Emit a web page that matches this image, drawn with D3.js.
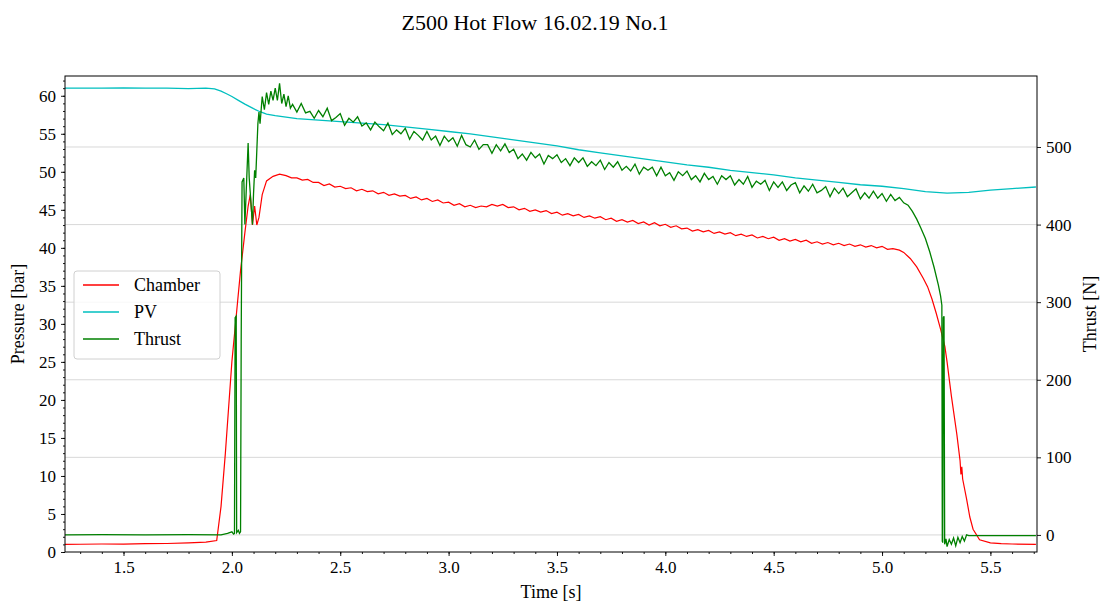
<!DOCTYPE html>
<html>
<head>
<meta charset="utf-8">
<script src="https://cdn.jsdelivr.net/npm/d3@7"></script>
<style>
  body { margin: 0; background: #fff; }
  svg text { font-family: "Liberation Serif", "DejaVu Serif", serif; fill: #000; }
</style>
</head>
<body>
<div id="chart"></div>
<script>
// data
const chartTitle = "Z500 Hot Flow 16.02.19 No.1";
const seriesNames = ["Chamber", "PV", "Thrust"];
const seriesColors = ["#ff0000", "#00bfbf", "#008000"];
const timeTicks = [1.5, 2.0, 2.5, 3.0, 3.5, 4.0, 4.5, 5.0, 5.5];
const pressureTicks = [0, 5, 10, 15, 20, 25, 30, 35, 40, 45, 50, 55, 60];
const thrustTicks = [0, 100, 200, 300, 400, 500];

// chamber pressure [s, bar]
const chamber = [
  [1.23,1.0],[1.3,1.02],[1.4,1.05],[1.5,1.04],[1.6,1.1],[1.7,1.12],[1.8,1.2],[1.88,1.3],[1.93,1.5],
  [1.95,6],[1.97,13],[1.99,21],[2.0,25],[2.02,31],[2.04,37],[2.06,42],[2.075,45.5],[2.085,47],
  [2.095,43],[2.105,45.5],[2.115,43],[2.125,44],[2.14,47],[2.16,48.8],[2.19,49.4],[2.22,49.7],
  [2.25,49.5],[2.275,49.2],[2.3,49.2],[2.325,48.9],[2.35,49.0],[2.375,48.6],[2.4,48.6],[2.425,48.2],
  [2.45,48.4],[2.475,48.0],[2.5,48.1],[2.525,47.8],[2.55,47.9],[2.575,47.5],[2.6,47.7],[2.625,47.4],
  [2.65,47.5],[2.675,47.1],[2.7,47.3],[2.725,46.9],[2.75,47.1],[2.775,46.8],[2.8,46.9],[2.825,46.5],
  [2.85,46.7],[2.875,46.3],[2.9,46.5],[2.925,46.1],[2.95,46.3],[2.975,45.9],[3.0,46.0],[3.025,45.6],
  [3.05,45.8],[3.075,45.4],[3.1,45.6],[3.125,45.3],[3.15,45.5],[3.175,45.4],[3.2,45.7],[3.225,45.5],
  [3.25,45.7],[3.275,45.3],[3.3,45.4],[3.325,45.0],[3.35,45.2],[3.375,44.8],[3.4,45.0],[3.425,44.7],
  [3.45,44.9],[3.475,44.5],[3.5,44.7],[3.525,44.3],[3.55,44.5],[3.575,44.2],[3.6,44.4],[3.625,44.0],
  [3.65,44.2],[3.675,43.9],[3.7,44.1],[3.725,43.7],[3.75,43.9],[3.775,43.5],[3.8,43.7],[3.825,43.4],
  [3.85,43.6],[3.875,43.2],[3.9,43.4],[3.925,43.0],[3.95,43.3],[3.975,42.9],[4.0,43.1],[4.025,42.7],
  [4.05,42.9],[4.075,42.5],[4.1,42.6],[4.125,42.2],[4.15,42.4],[4.175,42.1],[4.2,42.3],[4.225,41.9],
  [4.25,42.1],[4.275,41.8],[4.3,42.0],[4.325,41.6],[4.35,41.8],[4.375,41.5],[4.4,41.7],[4.425,41.3],
  [4.45,41.5],[4.475,41.2],[4.5,41.4],[4.525,41.0],[4.55,41.2],[4.575,40.9],[4.6,41.1],[4.625,40.8],
  [4.65,41.0],[4.675,40.6],[4.7,40.8],[4.725,40.5],[4.75,40.7],[4.775,40.4],[4.8,40.6],[4.825,40.3],
  [4.85,40.5],[4.875,40.2],[4.9,40.4],[4.925,40.1],[4.95,40.3],[4.975,40.0],[5.0,40.2],[5.025,39.8],
  [5.05,39.9],[5.08,39.7],[5.1,39.4],[5.13,38.6],[5.16,37.5],[5.19,36.0],[5.21,34.9],[5.23,33.3],
  [5.25,31.4],[5.27,29.3],[5.29,27.0],[5.30,25],[5.32,20.5],[5.345,15.5],[5.36,12.0],[5.364,10.2],
  [5.368,11.2],[5.372,9.6],[5.39,7.0],[5.405,4.6],[5.42,3.0],[5.45,1.6],[5.5,1.2],
  [5.55,1.1],[5.6,1.05],[5.71,1.0]
];

// PV pressure [s, bar]
const pv = [
  [1.23,61.0],[1.4,61.0],[1.5,61.05],[1.6,61.0],[1.7,61.0],[1.8,60.95],[1.88,61.0],[1.92,60.9],
  [1.95,60.6],[1.98,60.2],[2.0,59.9],[2.03,59.4],[2.06,58.9],[2.1,58.3],[2.13,57.9],[2.16,57.6],
  [2.2,57.4],[2.25,57.2],[2.3,57.0],[2.4,56.8],[2.5,56.6],[2.6,56.4],[2.7,56.2],[2.8,55.9],
  [2.9,55.6],[3.0,55.3],[3.1,55.0],[3.2,54.6],[3.3,54.2],[3.4,53.8],[3.5,53.4],[3.6,52.9],
  [3.7,52.5],[3.8,52.1],[3.9,51.7],[4.0,51.3],[4.1,50.9],[4.2,50.6],[4.3,50.2],[4.4,49.9],
  [4.5,49.6],[4.6,49.2],[4.7,48.9],[4.8,48.6],[4.9,48.3],[5.0,48.1],[5.1,47.8],[5.2,47.4],
  [5.3,47.2],[5.4,47.3],[5.5,47.6],[5.6,47.8],[5.71,48.0]
];

// thrust [s, N]
const thrust = [
  [1.23,0],[1.4,0.5],[1.6,0],[1.8,0.5],[1.95,0],[1.98,2],[2.0,4],[2.008,1],[2.012,2],
  [2.015,280],[2.02,282],[2.022,3],[2.03,6],[2.035,2],[2.04,4],[2.043,250],[2.047,455],
  [2.055,460],[2.06,400],[2.07,470],[2.075,505],[2.08,460],[2.09,420],[2.095,400],[2.1,440],
  [2.105,470],[2.11,460],[2.12,530],[2.125,545],[2.13,530],[2.14,565],[2.15,548],[2.16,570],
  [2.17,555],[2.18,572],[2.19,560],[2.2,576],[2.21,560],[2.22,582],[2.23,556],[2.24,568],
  [2.25,552],[2.26,566],[2.27,550],
  [2.28,555],[2.30,545],[2.32,556],[2.34,544],[2.36,546],[2.38,537],[2.40,547],[2.42,539],
  [2.44,550],[2.46,534],[2.48,538],[2.50,543],[2.52,528],[2.54,537],[2.56,532],[2.58,539],
  [2.60,527],[2.62,531],[2.64,522],[2.66,532],[2.68,526],[2.70,521],[2.72,531],[2.74,516],
  [2.76,522],[2.78,517],[2.80,524],[2.82,510],[2.84,520],[2.86,515],[2.88,509],[2.90,520],
  [2.92,509],[2.94,514],[2.96,502],[2.98,514],[3.00,507],[3.02,512],[3.04,501],[3.06,515],
  [3.08,503],[3.10,500],[3.12,509],[3.14,497],[3.16,503],[3.18,503],[3.20,492],[3.22,503],
  [3.24,495],[3.26,504],[3.28,493],[3.30,497],[3.32,485],[3.34,491],[3.36,483],[3.38,493],
  [3.40,486],[3.42,491],[3.44,478],[3.46,489],[3.48,485],[3.50,490],[3.52,480],[3.54,485],
  [3.56,476],[3.58,486],[3.60,480],[3.62,486],[3.64,475],[3.66,481],[3.68,476],[3.70,483],
  [3.72,471],[3.74,480],[3.76,474],[3.78,481],[3.80,470],[3.82,475],[3.84,469],[3.86,478],
  [3.88,465],[3.90,474],[3.92,470],[3.94,474],[3.96,463],[3.98,474],[4.00,463],[4.02,467],
  [4.04,457],[4.06,468],[4.08,463],[4.10,469],[4.12,458],[4.14,463],[4.16,455],[4.18,466],
  [4.20,458],[4.22,462],[4.24,452],[4.26,463],[4.28,458],[4.30,463],[4.32,451],[4.34,458],
  [4.36,452],[4.38,462],[4.40,448],[4.42,456],[4.44,452],[4.46,457],[4.48,444],[4.50,455],
  [4.52,448],[4.54,455],[4.56,444],[4.58,451],[4.60,454],[4.62,441],[4.64,450],[4.66,443],
  [4.68,452],[4.70,441],[4.72,444],[4.74,449],[4.76,436],[4.78,447],[4.80,440],[4.82,447],
  [4.84,436],[4.86,441],[4.88,446],[4.90,433],[4.92,441],[4.94,434],[4.96,443],[4.98,434],
  [5.00,440],[5.02,430],[5.04,439],[5.06,431],[5.08,435],[5.10,428],
  [5.12,425],[5.14,417],[5.16,407],[5.18,395],[5.20,382],[5.22,365],[5.24,345],[5.26,322],
  [5.27,308],[5.276,296],[5.278,-8],[5.28,-10],[5.283,280],[5.286,282],[5.289,-12],[5.295,-5],
  [5.30,-15],[5.31,-6],[5.32,-12],[5.33,-4],[5.34,-14],[5.35,-3],[5.36,-10],[5.37,-2],
  [5.38,-8],[5.39,0],[5.40,-1],[5.5,-1],[5.71,-1]
];

const W = 1102, H = 606;
const margin = {top: 76, right: 65, bottom: 54, left: 65},
    width = W - margin.left - margin.right,
    height = H - margin.top - margin.bottom;

const svg = d3.select("#chart").append("svg")
    .attr("width", W).attr("height", H);

const g = svg.append("g")
    .attr("transform", `translate(${margin.left}, ${margin.top})`);

const x = d3.scaleLinear().domain([1.23, 5.715]).range([0, width]);
const yP = d3.scaleLinear().domain([0, 62.6]).range([height, 0]);
const yT = d3.scaleLinear().domain([-22, 591.5]).range([height, 0]);

// horizontal grid from the thrust axis
g.append("g")
    .selectAll("line")
    .data(thrustTicks)
    .join("line")
    .attr("x1", 0).attr("x2", width)
    .attr("y1", d => yT(d)).attr("y2", d => yT(d))
    .attr("stroke", "#d8d8d8").attr("stroke-width", 1);

g.append("clipPath").attr("id", "clip")
  .append("rect").attr("width", width).attr("height", height);

const plot = g.append("g").attr("clip-path", "url(#clip)");

const lineP = d3.line().x(d => x(d[0])).y(d => yP(d[1]));
const lineT = d3.line().x(d => x(d[0])).y(d => yT(d[1]));

plot.append("path").datum(pv)
    .attr("fill", "none").attr("stroke", seriesColors[1]).attr("stroke-width", 1.3)
    .attr("d", lineP);
plot.append("path").datum(chamber)
    .attr("fill", "none").attr("stroke", seriesColors[0]).attr("stroke-width", 1.2)
    .attr("d", lineP);
plot.append("path").datum(thrust)
    .attr("fill", "none").attr("stroke", seriesColors[2]).attr("stroke-width", 1.3)
    .attr("d", lineT);

// frame
g.append("rect").attr("width", width).attr("height", height)
    .attr("fill", "none").attr("stroke", "#000").attr("stroke-width", 1);

// axes
const fmt1 = d3.format(".1f");
const xAxis = g.append("g").attr("transform", `translate(0,${height})`)
    .call(d3.axisBottom(x).tickValues(timeTicks).tickFormat(fmt1).tickSize(4).tickPadding(5));
const xMinor = g.append("g").attr("transform", `translate(0,${height})`)
    .call(d3.axisBottom(x).tickValues(d3.range(13, 58).map(d => d / 10)).tickFormat("").tickSize(2));

const yAxis = g.append("g")
    .call(d3.axisLeft(yP).tickValues(pressureTicks).tickSize(4).tickPadding(5));
const yMinor = g.append("g")
    .call(d3.axisLeft(yP).tickValues(d3.range(0, 63)).tickFormat("").tickSize(2));

const y2Axis = g.append("g").attr("transform", `translate(${width},0)`)
    .call(d3.axisRight(yT).tickValues(thrustTicks).tickSize(4).tickPadding(5));

[xAxis, xMinor, yAxis, yMinor, y2Axis].forEach(a => {
  a.select(".domain").remove();
  a.selectAll("line").attr("stroke", "#000").attr("stroke-width", 0.9);
  a.selectAll("text").attr("font-size", 17).attr("font-family", "Liberation Serif");
});

// labels
svg.append("text")
    .attr("x", 535).attr("y", 30)
    .attr("text-anchor", "middle").attr("font-size", 22)
    .text(chartTitle);

svg.append("text")
    .attr("x", margin.left + width / 2).attr("y", 598)
    .attr("text-anchor", "middle").attr("font-size", 18)
    .text("Time [s]");

svg.append("text")
    .attr("transform", `translate(24, ${margin.top + height / 2}) rotate(-90)`)
    .attr("text-anchor", "middle").attr("font-size", 18)
    .text("Pressure [bar]");

svg.append("text")
    .attr("transform", `translate(1096, ${margin.top + height / 2}) rotate(-90)`)
    .attr("text-anchor", "middle").attr("font-size", 18)
    .text("Thrust [N]");

// legend
const legend = svg.append("g").attr("transform", "translate(74, 271)");
legend.append("rect")
    .attr("width", 146).attr("height", 88).attr("rx", 3)
    .attr("fill", "#fff").attr("fill-opacity", 0.8)
    .attr("stroke", "#d0d0d0").attr("stroke-width", 1);

const item = legend.selectAll(".item")
    .data(seriesNames)
    .join("g")
    .attr("transform", (d, i) => `translate(0, ${14 + i * 27})`);
item.append("line")
    .attr("x1", 9).attr("x2", 45).attr("y1", 0).attr("y2", 0)
    .attr("stroke", (d, i) => seriesColors[i]).attr("stroke-width", 1.3);
item.append("text")
    .attr("x", 60).attr("y", 6)
    .attr("font-size", 18)
    .text(d => d);
</script>
</body>
</html>
